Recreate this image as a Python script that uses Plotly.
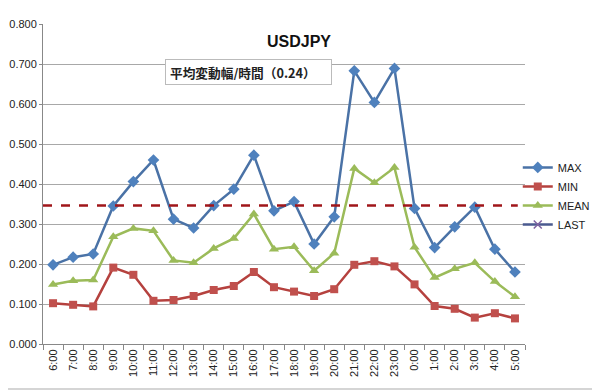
import plotly.graph_objects as go

hours = ["6:00", "7:00", "8:00", "9:00", "10:00", "11:00", "12:00", "13:00", "14:00",
         "15:00", "16:00", "17:00", "18:00", "19:00", "20:00", "21:00", "22:00", "23:00",
         "0:00", "1:00", "2:00", "3:00", "4:00", "5:00"]
max_vals = [0.198, 0.217, 0.225, 0.345, 0.406, 0.460, 0.312, 0.290, 0.346, 0.387, 0.472, 0.333,
            0.356, 0.250, 0.318, 0.683, 0.604, 0.689, 0.339, 0.241, 0.293, 0.342, 0.237, 0.180]
min_vals = [0.102, 0.098, 0.094, 0.191, 0.173, 0.108, 0.110, 0.120, 0.135, 0.145, 0.180, 0.142,
            0.131, 0.120, 0.137, 0.198, 0.207, 0.194, 0.149, 0.095, 0.088, 0.066, 0.077, 0.064]
mean_vals = [0.149, 0.158, 0.160, 0.268, 0.289, 0.283, 0.209, 0.203, 0.239, 0.264, 0.325, 0.237,
             0.243, 0.183, 0.227, 0.439, 0.403, 0.441, 0.242, 0.166, 0.188, 0.203, 0.156, 0.118]
last_vals = [None] * len(hours)
avg_line = 0.346
y_ticks = [0.0, 0.1, 0.2, 0.3, 0.4, 0.5, 0.6, 0.7, 0.8]
title_text = "USDJPY"
note_text = "平均変動幅/時間（0.24）"

fig = go.Figure()
fig.add_trace(go.Scatter(x=hours, y=max_vals, name="MAX", mode="lines+markers",
                         line=dict(color="#4A72A6", width=2.5),
                         marker=dict(symbol="diamond", size=9, color="#4F81BD")))
fig.add_trace(go.Scatter(x=hours, y=min_vals, name="MIN", mode="lines+markers",
                         line=dict(color="#B5413E", width=2.5),
                         marker=dict(symbol="square", size=8, color="#C0504D")))
fig.add_trace(go.Scatter(x=hours, y=mean_vals, name="MEAN", mode="lines+markers",
                         line=dict(color="#9BBB59", width=2.5),
                         marker=dict(symbol="triangle-up", size=9, color="#9BBB59")))
fig.add_trace(go.Scatter(x=hours, y=last_vals, name="LAST", mode="lines+markers",
                         line=dict(color="#4A5A8F", width=2.5),
                         marker=dict(symbol="x-thin", size=8, color="#8064A2",
                                     line=dict(color="#8064A2", width=1.5))))

fig.add_shape(type="line", xref="x domain", yref="y", x0=0, x1=0.985,
              y0=avg_line, y1=avg_line,
              line=dict(color="#A0161A", width=2.5, dash="dash"))
fig.add_shape(type="rect", xref="paper", yref="paper", x0=-0.2, x1=1.149, y0=-0.141, y1=1.2,
              line=dict(color="#C8C8C8", width=1.5), layer="below")

fig.add_annotation(text="<b>" + title_text + "</b>", xref="paper", yref="paper",
                   x=0.531, y=0.944, yanchor="middle", showarrow=False,
                   font=dict(family="Liberation Sans, Arial", size=16, color="#111"))
fig.add_annotation(text="<b>" + note_text + "</b>", xref="paper", yref="paper",
                   x=0.253, y=0.85, xanchor="left", yanchor="middle", showarrow=False,
                   width=157, height=16, align="left",
                   font=dict(family="Noto Sans CJK JP", size=12.7, color="#222"),
                   bordercolor="#BBBBBB", borderwidth=1, borderpad=4, bgcolor="white")

fig.update_layout(
    width=592, height=383,
    margin=dict(l=35, r=75, t=16, b=47, autoexpand=False),
    paper_bgcolor="white", plot_bgcolor="white",
    font=dict(family="Liberation Sans, Arial", size=11, color="#333"),
    showlegend=True,
    legend=dict(x=0.985, y=0.597, xanchor="left", yanchor="top",
                font=dict(size=11, color="#222"), itemwidth=30,
                tracegroupgap=4, bgcolor="rgba(0,0,0,0)"),
    xaxis=dict(type="category", range=[-0.5, 23.5], tickangle=-90, showgrid=False,
               automargin=False,
               showline=True, linecolor="#888", linewidth=1,
               ticks="outside", tickson="boundaries", ticklen=5, tickcolor="#888",
               tickfont=dict(size=11, color="#222")),
    yaxis=dict(range=[0, 0.8], tickvals=y_ticks, tickformat=".3f", automargin=False,
               showgrid=True, gridcolor="#A8A8A8", gridwidth=1,
               showline=True, linecolor="#888", linewidth=1,
               ticks="outside", ticklen=3, tickcolor="#888",
               zeroline=False, tickfont=dict(size=11, color="#222")),
)

fig.write_html("out.html")
